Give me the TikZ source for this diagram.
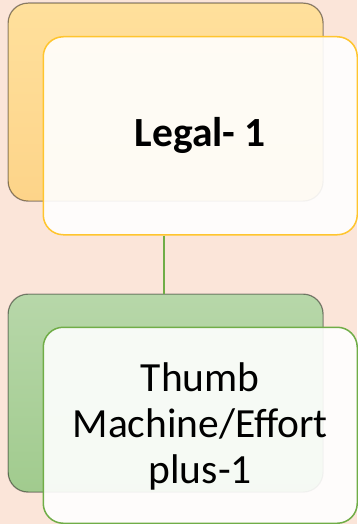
\documentclass[tikz,border=0pt]{standalone}
\usepackage{fontspec}
\setmainfont{Carlito}
\definecolor{bgc}{HTML}{FBE5D9}
\definecolor{orTop}{HTML}{FFE09C}
\definecolor{orBot}{HTML}{FDD489}
\definecolor{grTop}{HTML}{B7D7A9}
\definecolor{grBot}{HTML}{A1CB8E}
\definecolor{yel}{HTML}{FFC52E}
\definecolor{grn}{HTML}{70AD47}
\begin{document}
\begin{tikzpicture}[x=1pt,y=-1pt,
  backbox/.style={rounded corners=20pt,line width=1.2pt,draw=black,draw opacity=0.45},
  frontbox/.style={rounded corners=20pt,line width=1.5pt,fill=white,fill opacity=0.9,text opacity=1},
  lbl/.style={align=center,font=\fontsize{41.5}{46}\selectfont,text=black}]
\fill[bgc] (0,0) rectangle (357,524);
\useasboundingbox (0,0) rectangle (357,524);
% top group
\node[backbox,top color=orTop,bottom color=orBot,minimum width=315pt,minimum height=198pt,anchor=north west,inner sep=0pt] (b1) at (7.5,2.5) {};
\node[frontbox,draw=yel,minimum width=314pt,minimum height=198pt,anchor=north west,inner sep=0pt] (f1) at (42.5,36) {};
\node[lbl,font=\fontsize{41.5}{46}\selectfont\bfseries] (t1) at (f1.center) {Legal- 1};
% bottom group
\node[backbox,top color=grTop,bottom color=grBot,minimum width=315pt,minimum height=198pt,anchor=north west,inner sep=0pt] (b2) at (7.5,293.5) {};
\node[frontbox,draw=grn,minimum width=314pt,minimum height=196pt,anchor=north west,inner sep=0pt] (f2) at (42.5,326.5) {};
\node[lbl] (t2) at ([yshift=-1pt]f2.center) {Thumb\\Machine/Effort\\plus-1};
% connector
\coordinate (c1) at (f1.south -| 164,0);
\coordinate (c2) at (b2.north -| c1);
\draw[grn,line width=2.5pt] (c1) -- (c2);
\end{tikzpicture}
\end{document}
